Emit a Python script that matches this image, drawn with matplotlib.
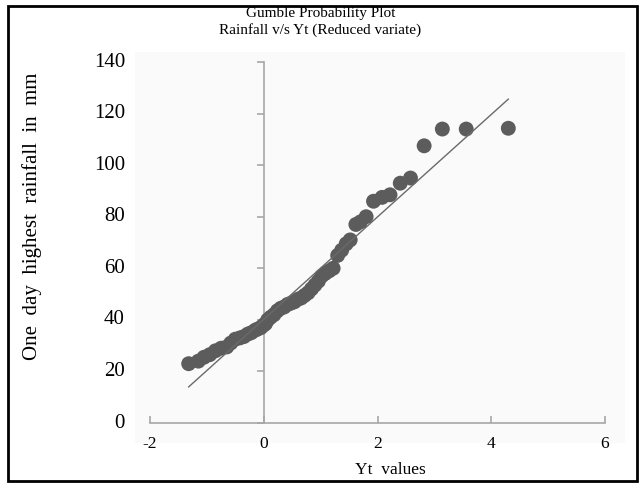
import matplotlib
matplotlib.use("Agg")
import matplotlib.pyplot as plt
import matplotlib.transforms as mtransforms
from matplotlib.patches import Rectangle

plt.rcParams['font.family'] = ['Liberation Serif', 'DejaVu Serif']

# --- data ---
yt_values = [-1.32, -1.15, -1.05, -0.95, -0.85, -0.75, -0.65, -0.58, -0.50, -0.42,
             -0.35, -0.28, -0.22, -0.15, -0.10, -0.05, 0.00, 0.03, 0.07, 0.12,
             0.18, 0.24, 0.30, 0.36, 0.42, 0.48, 0.54, 0.60, 0.66, 0.72,
             0.78, 0.84, 0.90, 0.96, 1.02, 1.08, 1.15, 1.22, 1.30, 1.37,
             1.45, 1.52, 1.62, 1.70, 1.80, 1.93, 2.08, 2.22, 2.40, 2.58,
             2.82, 3.14, 3.56, 4.30]
rainfall = [23, 24, 25.5, 26.5, 28, 29, 29.5, 31, 32.5, 33,
            33.5, 34.5, 35, 36, 36.5, 37, 38, 38.5, 40, 41,
            42, 43.5, 44.5, 45, 46, 46.5, 47, 48, 48.5, 49.5,
            50.5, 52, 53.5, 55, 57, 58, 59, 60, 65, 67,
            69.5, 71, 77, 78, 80, 86, 87.5, 88.5, 93, 95,
            107.5, 114, 114, 114.3]
fit_x = [-1.32, 4.30]
fit_y = [14, 125.6]
x_ticks = [-2, 0, 2, 4, 6]
y_ticks = [0, 20, 40, 60, 80, 100, 120, 140]

W, H = 641, 484
fig = plt.figure(figsize=(W / 100, H / 100), dpi=100)

# faint plot area and outer border
fig.patches.append(Rectangle((135 / W, 1 - 443 / H), 490 / W, 391 / H, transform=fig.transFigure,
                             facecolor='#fafafa', edgecolor='none', zorder=-10))
fig.patches.append(Rectangle((8 / W, 3 / H), 629 / W, 475 / H, transform=fig.transFigure,
                             fill=False, edgecolor='black', linewidth=2, zorder=-5))

ax = fig.add_axes([150 / W, 1 - 423 / H, 455 / W, 361 / H])
ax.patch.set_visible(False)

ax.scatter(yt_values, rainfall, s=115, color='#5c5c5c', edgecolors='none', zorder=3)
ax.plot(fit_x, fit_y, color='#6a6a6a', linewidth=1.0, zorder=4)

ax.set_xlim(-2, 6)
ax.set_ylim(0, 140)

for side in ['top', 'right']:
    ax.spines[side].set_visible(False)
ax.spines['left'].set_position(('data', 0))
ax.spines['bottom'].set_position(('data', 0))
for side in ['left', 'bottom']:
    ax.spines[side].set_color('#a6a6a6')
    ax.spines[side].set_linewidth(1.2)

ax.set_xticks(x_ticks)
ax.set_xticklabels([str(v) for v in x_ticks], fontsize=12.5)
ax.tick_params(axis='x', direction='in', length=5, color='#a6a6a6', width=1.2, pad=9)

ax.set_yticks(y_ticks)
ax.set_yticklabels([])
ax.tick_params(axis='y', direction='out', length=5, color='#a6a6a6', width=1.2)
trans = mtransforms.blended_transform_factory(ax.transAxes, ax.transData)
for v in y_ticks:
    ax.text(-0.055, v, str(v), transform=trans, ha='right', va='center', fontsize=15)

fig.text(390 / W, 1 - 470 / H, 'Yt  values', ha='center', va='center', fontsize=12.5)
fig.text(32 / W, 1 - 216 / H, 'One  day  highest  rainfall  in  mm', rotation=90,
         ha='center', va='center', fontsize=15)

fig.text(0.5, 1 - 13 / H, 'Gumble Probability Plot', ha='center', va='center', fontsize=11)
fig.text(0.5, 1 - 30 / H, 'Rainfall v/s Yt (Reduced variate)', ha='center', va='center', fontsize=11)

fig.savefig('out.png', dpi=100)
